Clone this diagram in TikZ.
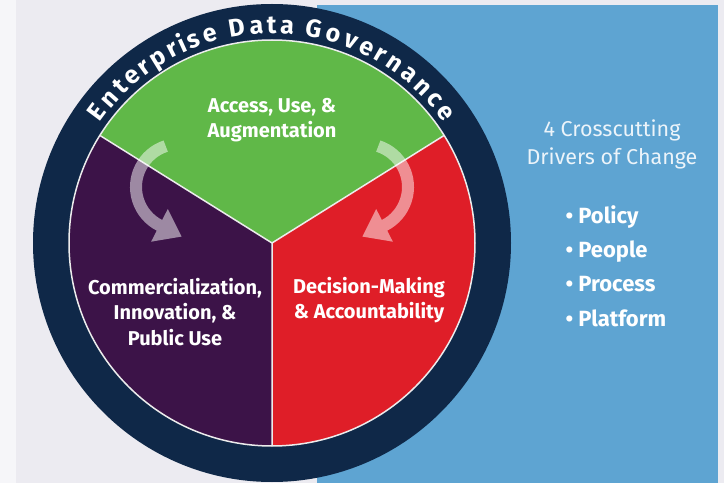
\documentclass[tikz,border=0pt]{standalone}
\usepackage{fontspec}
\setmainfont{Fira Sans}
\usepackage{tikz}
\usetikzlibrary{arrows.meta,decorations.text}
\definecolor{bggray}{RGB}{236,235,241}
\definecolor{panelblue}{RGB}{94,164,210}
\definecolor{ringnavy}{RGB}{15,40,72}
\definecolor{accgreen}{RGB}{96,184,72}
\definecolor{compurple}{RGB}{60,19,72}
\definecolor{decred}{RGB}{223,30,40}

\begin{document}
\begin{tikzpicture}[x=1pt,y=1pt]
  \tikzstyle{sector label}=[text=white, font=\fontsize{20}{25.5}\selectfont\bfseries, align=center]
  \tikzstyle{cycle arrow}=[white, line width=12pt, -{Triangle[length=25pt,width=35pt]}]
  \useasboundingbox (0,0) rectangle (724,483);
  \fill[bggray] (0,0) rectangle (724,483);
  \fill[white!55!bggray] (0,0) rectangle (16,483);
  \fill[panelblue] (317,0) rectangle (718,478);

  % governance ring and the three sectors
  \coordinate (c) at (272,240);
  \fill[ringnavy] (c) circle[radius=239];
  \fill[accgreen] (c) -- ([shift={(32:203)}]c) arc[start angle=32,end angle=148,radius=203] -- cycle;
  \fill[decred] (c) -- ([shift={(-90:203)}]c) arc[start angle=-90,end angle=32,radius=203] -- cycle;
  \fill[compurple] (c) -- ([shift={(148:203)}]c) arc[start angle=148,end angle=270,radius=203] -- cycle;
  \draw[white!85!gray, line width=1.5pt] (c) circle[radius=203]
    (c) -- ([shift={(32:203)}]c) (c) -- ([shift={(148:203)}]c) (c) -- ([shift={(270:203)}]c);

  \path[decorate, decoration={text effects along path, text={Enterprise Data Governance},
      text effects/.cd, text along path, fit text to path,
      characters={text=white, font=\fontsize{25}{25}\selectfont\bfseries}}]
    ([shift={(145:210)}]c) arc[start angle=145,end angle=35,radius=210];

  % curved arrows
  \coordinate (lc) at (179,296);
  \coordinate (rc) at (365,296);
  \begin{scope}[transparency group, opacity=.5]
    \draw[cycle arrow] ([shift={(108:43)}]lc) arc[start angle=108,end angle=243,radius=43] -- ++(-27:25);
    \draw[cycle arrow] ([shift={(72:43)}]rc) arc[start angle=72,end angle=-63,radius=43] -- ++(-153:25);
  \end{scope}

  \node[sector label] (access) at (272,363) {Access, Use, \&\\Augmentation};
  \node[sector label] (commerce) at (175,171) {Commercialization,\\Innovation, \&\\Public Use};
  \node[sector label] (decision) at (369,183) {Decision-Making\\\& Accountability};

  \node[text=white!88!panelblue, font=\fontsize{21.5}{28}\selectfont, align=center] (drivers) at (612,339) {4 Crosscutting\\Drivers of Change};
  \node[text=white, font=\fontsize{22}{34.3}\selectfont\bfseries, align=left, anchor=west] (pillars) at (562,217)
    {\textbullet\ Policy\\\textbullet\ People\\\textbullet\ Process\\\textbullet\ Platform};
\end{tikzpicture}
\end{document}
